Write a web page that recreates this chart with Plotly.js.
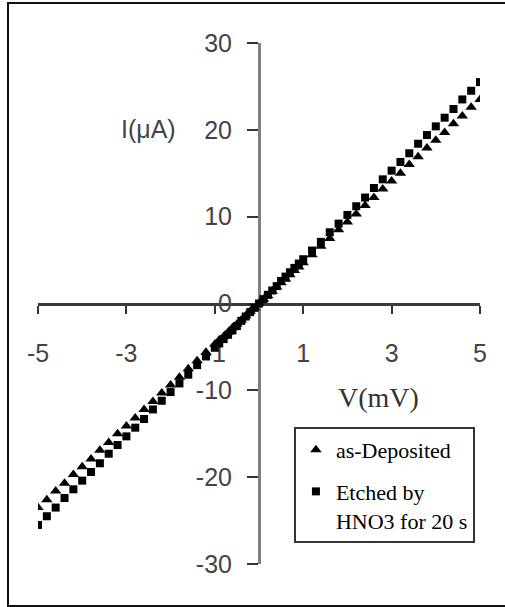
<!DOCTYPE html>
<html>
<head>
<meta charset="utf-8">
<script src="https://cdn.plot.ly/plotly-3.0.1.min.js"></script>
<style>
  html, body { margin: 0; padding: 0; background: #fff; }
  #chart { position: absolute; left: 0; top: 0; width: 505px; height: 607px; }
  #frame { position: absolute; left: 7px; top: 2px; width: 540px; height: 605px;
           box-sizing: border-box; border: 2px solid #111; pointer-events: none; }
</style>
</head>
<body>
<div id="chart"></div>
<div id="frame"></div>
<script>
// Voltage (mV)
const voltage = [-5, -4.8, -4.6, -4.4, -4.2, -4, -3.8, -3.6, -3.4, -3.2, -3, -2.8, -2.6, -2.4, -2.2, -2, -1.8, -1.6, -1.4, -1.2,
  -1, -0.9, -0.8, -0.7, -0.6, -0.5, -0.4, -0.3, -0.2, -0.1, 0, 0.1, 0.2, 0.3, 0.4, 0.5, 0.6, 0.7, 0.8, 0.9, 1,
  1.2, 1.4, 1.6, 1.8, 2, 2.2, 2.4, 2.6, 2.8, 3, 3.2, 3.4, 3.6, 3.8, 4, 4.2, 4.4, 4.6, 4.8, 5];

// Current (uA), as-Deposited
const currentAsDeposited = [-23.5, -22.6, -21.6, -20.7, -19.7, -18.8, -17.9, -16.9, -16.0, -15.0, -14.1, -13.2, -12.2, -11.3, -10.3, -9.4, -8.5, -7.5, -6.6, -5.6,
  -4.7, -4.2, -3.8, -3.3, -2.8, -2.4, -1.9, -1.4, -0.9, -0.5, 0, 0.5, 0.9, 1.4, 1.9, 2.4, 2.8, 3.3, 3.8, 4.2, 4.7,
  5.6, 6.6, 7.5, 8.5, 9.4, 10.3, 11.3, 12.2, 13.2, 14.1, 15.0, 16.0, 16.9, 17.9, 18.8, 19.7, 20.7, 21.6, 22.6, 23.5];

// Current (uA), Etched by HNO3 for 20 s
const currentEtched = [-25.5, -24.5, -23.5, -22.4, -21.4, -20.4, -19.4, -18.4, -17.3, -16.3, -15.3, -14.3, -13.3, -12.2, -11.2, -10.2, -9.2, -8.2, -7.1, -6.1,
  -5.1, -4.6, -4.1, -3.6, -3.1, -2.6, -2.0, -1.5, -1.0, -0.5, 0, 0.5, 1.0, 1.5, 2.0, 2.6, 3.1, 3.6, 4.1, 4.6, 5.1,
  6.1, 7.1, 8.2, 9.2, 10.2, 11.2, 12.2, 13.3, 14.3, 15.3, 16.3, 17.3, 18.4, 19.4, 20.4, 21.4, 22.4, 23.5, 24.5, 25.5];

const seriesNames = ['as-Deposited', 'Etched by<br>HNO3 for 20 s'];
const xTickVals = [-5, -3, -1, 1, 3, 5];
const xTickText = ['-5', '-3', '-1', '1', '3', '5'];
const yTickVals = [-30, -20, -10, 0, 10, 20, 30];
const yTickText = ['-30', '-20', '-10', '0', '10', '20', '30'];

const tickFont = { family: '"Liberation Sans Narrow", "Liberation Sans", Arial, sans-serif', size: 25, color: '#444' };
const serif = '"Liberation Serif", "Times New Roman", serif';

const traces = [
  { x: voltage, y: currentAsDeposited, name: seriesNames[0], type: 'scatter', mode: 'markers',
    legendgroup: 'a', marker: { symbol: 'triangle-up', size: 10, color: '#000' } },
  { x: voltage, y: currentEtched, name: seriesNames[1], type: 'scatter', mode: 'markers',
    legendgroup: 'b', marker: { symbol: 'square', size: 8, color: '#000' } }
];

const layout = {
  width: 505, height: 607,
  margin: { l: 38, r: 25, t: 43, b: 43, pad: 0 },
  paper_bgcolor: '#fff', plot_bgcolor: '#fff',
  showlegend: true,
  xaxis: {
    range: [-5, 5], anchor: 'free', position: 0.5,
    showgrid: false, zeroline: false,
    showline: true, linecolor: '#3a3a3a', linewidth: 3,
    tickmode: 'array', tickvals: xTickVals, ticktext: xTickText,
    ticks: 'outside', ticklen: 8, tickwidth: 2, tickcolor: '#333',
    ticklabelstandoff: 18, tickfont: tickFont, layer: 'below traces'
  },
  yaxis: {
    range: [-30, 30], anchor: 'free', position: 0.5,
    showgrid: false, zeroline: false,
    showline: true, linecolor: '#808080', linewidth: 3,
    tickmode: 'array', tickvals: yTickVals, ticktext: yTickText,
    ticks: 'outside', ticklen: 11, tickwidth: 2, tickcolor: '#333',
    ticklabelstandoff: 10, tickfont: tickFont, layer: 'below traces'
  },
  legend: {
    x: 0.579, y: 0.263, xanchor: 'left', yanchor: 'top',
    bgcolor: '#fff', bordercolor: '#333', borderwidth: 2,
    font: { family: serif, size: 22, color: '#000' },
    traceorder: 'grouped', tracegroupgap: 10, valign: 'top',
    itemwidth: 30
  },
  annotations: [
    { text: 'I(μA)', xref: 'paper', yref: 'paper', x: 0.249, y: 0.835, showarrow: false,
      xanchor: 'center', yanchor: 'middle', font: { family: tickFont.family, size: 25, color: '#444' } },
    { text: 'V(mV)', xref: 'paper', yref: 'paper', x: 0.771, y: 0.319, showarrow: false,
      xanchor: 'center', yanchor: 'middle', font: { family: serif, size: 28, color: '#333' } }
  ]
};

Plotly.newPlot('chart', traces, layout, { staticPlot: true, displayModeBar: false });
</script>
</body>
</html>
